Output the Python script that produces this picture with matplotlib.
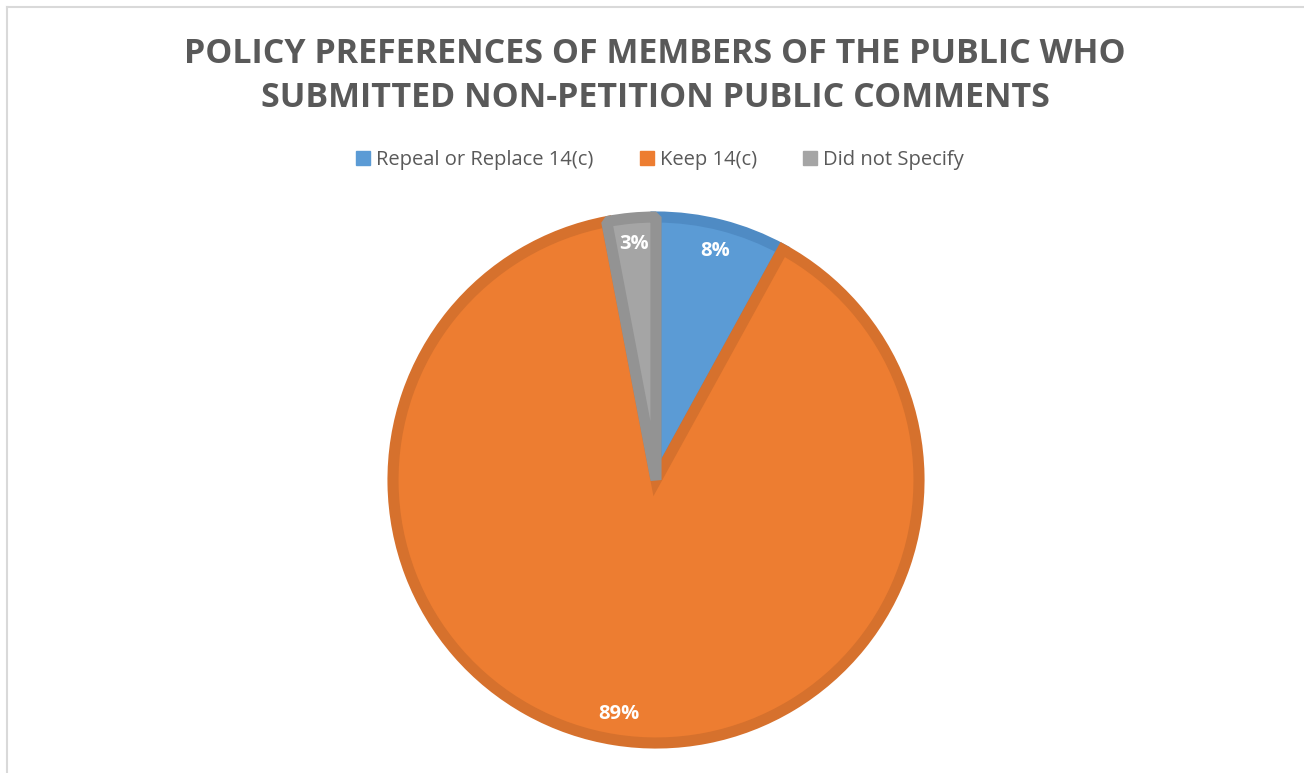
import matplotlib
matplotlib.use("Agg")
import matplotlib.pyplot as plt
from matplotlib.patches import Patch
from matplotlib.lines import Line2D

categories = ["Repeal or Replace 14(c)", "Keep 14(c)", "Did not Specify"]
values = [8, 89, 3]
fill_colors = ["#5b9bd5", "#ed7d31", "#a5a5a5"]
edge_colors = ["#4f8bc4", "#d6712d", "#939393"]
title = "POLICY PREFERENCES OF MEMBERS OF THE PUBLIC WHO\nSUBMITTED NON-PETITION PUBLIC COMMENTS"

W, H = 1304, 773
fig = plt.figure(figsize=(W / 100, H / 100), dpi=100)
fig.patch.set_facecolor("white")
ax = fig.add_axes([0, 0, 1, 1])

cx, cy, r = 656, H - 480, 263
wedges, texts, autotexts = ax.pie(
    values, colors=fill_colors, startangle=90, counterclock=False,
    center=(cx, cy), radius=r, autopct="%1.0f%%", pctdistance=0.90,
    wedgeprops=dict(linewidth=8, joinstyle="miter"),
    textprops=dict(color="white", fontsize=14.5, fontweight="bold", family="Open Sans"),
)
for w, ec in zip(wedges, edge_colors):
    w.set_edgecolor(ec)
wedges[0].set_zorder(1)
wedges[1].set_zorder(2)
wedges[2].set_zorder(3)
wedges[2].set_joinstyle("bevel")
for t in autotexts:
    t.set_zorder(5)
ax.set_xlim(0, W)
ax.set_ylim(0, H)
ax.set_aspect("equal")
ax.axis("off")

# chart frame (top and left visible)
ax.add_line(Line2D([7, 7], [H - 7, -5], color="#d9d9d9", lw=1.5))
ax.add_line(Line2D([7, W + 5], [H - 7, H - 7], color="#d9d9d9", lw=1.5))

fig.text(655 / W, 1 - 76 / H, title, ha="center", va="center", fontsize=24.5,
         fontweight="bold", color="#595959", family="Open Sans", linespacing=1.4)

handles = [Patch(facecolor=c, edgecolor=c) for c in fill_colors]
fig.legend(handles, categories, loc="center", bbox_to_anchor=(660 / W, 1 - 160 / H),
           ncol=3, frameon=False, labelcolor="#595959",
           handlelength=0.7, handleheight=0.7, handletextpad=0.3, columnspacing=2.3,
           prop=dict(family="Open Sans", size=14.5))

fig.savefig("out.png", dpi=100, facecolor="white")
